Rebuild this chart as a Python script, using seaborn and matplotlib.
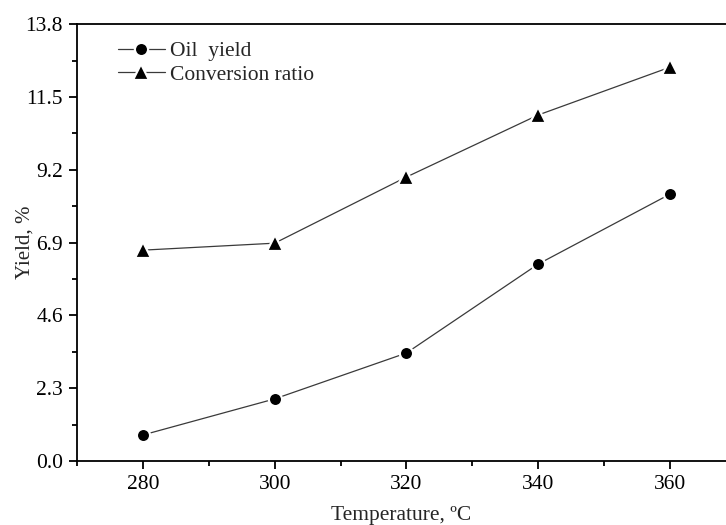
"""Oil yield and conversion ratio versus temperature."""

import matplotlib.pyplot as plt
import pandas as pd
import seaborn as sns
from matplotlib.ticker import AutoMinorLocator, FixedLocator

temperature = [280, 300, 320, 340, 360]
oil_yield = [0.82, 1.96, 3.41, 6.22, 8.43]
conversion_ratio = [6.66, 6.88, 8.97, 10.93, 12.44]
y_ticks = [0.0, 2.3, 4.6, 6.9, 9.2, 11.5, 13.8]

if __name__ == "__main__":
    df = pd.DataFrame(
        {
            "Temperature": temperature * 2,
            "Yield": oil_yield + conversion_ratio,
            "Series": ["Oil  yield"] * 5 + ["Conversion ratio"] * 5,
        }
    )

    sns.set_theme(style="ticks")
    plt.rcParams["font.family"] = ["Liberation Serif", "DejaVu Serif"]

    f = plt.figure(figsize=(7.26, 5.25), dpi=100)
    ax = f.add_axes([0.106, 0.122, 0.894, 0.832])

    sns.lineplot(
        data=df,
        x="Temperature",
        y="Yield",
        style="Series",
        markers={"Oil  yield": "o", "Conversion ratio": "^"},
        dashes=False,
        color="#3a3a3a",
        linewidth=0.9,
        markersize=9.5,
        markeredgecolor="white",
        markeredgewidth=1.6,
        markerfacecolor="black",
        ax=ax,
    )
    # triangles look smaller than circles at the same size
    for line in ax.get_lines():
        if line.get_marker() == "^":
            line.set_markersize(11)

    fs = 15.5
    ax.set_xlim(270, 368.5)
    ax.set_ylim(0, 13.8)
    ax.set_xticks(temperature)
    ax.yaxis.set_major_locator(FixedLocator(y_ticks))
    ax.set_yticklabels([f"{v:.1f}" for v in y_ticks])
    ax.xaxis.set_minor_locator(AutoMinorLocator(2))
    ax.yaxis.set_minor_locator(AutoMinorLocator(2))
    ax.tick_params(which="major", direction="out", length=6, width=1.3,
                   labelsize=fs, color="black", labelcolor="black", pad=4)
    ax.tick_params(which="minor", direction="out", length=3.5, width=1.3,
                   color="black")
    for side in ["left", "bottom", "top"]:
        ax.spines[side].set_linewidth(1.3)
        ax.spines[side].set_color("black")
    ax.spines["right"].set_visible(False)

    ax.set_xlabel("Temperature, ºC", fontsize=fs, labelpad=9)
    ax.set_ylabel("Yield, %", fontsize=fs - 0.5)
    ax.yaxis.set_label_coords(-0.066, 0.5)

    leg = ax.legend(
        loc="upper left",
        bbox_to_anchor=(0.033, 1.005),
        frameon=False,
        fontsize=fs,
        handlelength=2.2,
        handletextpad=0.25,
        labelspacing=0.15,
    )
    for line in leg.get_lines():
        line.set_markeredgecolor("white")
        line.set_markerfacecolor("black")
        line.set_color("#3a3a3a")
        if line.get_marker() == "^":
            line.set_markersize(11)

    f.savefig("out.png", dpi=100)
    plt.close()
